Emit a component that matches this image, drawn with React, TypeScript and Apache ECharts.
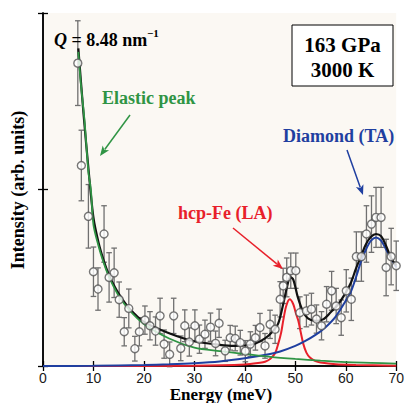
import React, { useEffect, useRef } from "react";
import * as echarts from "echarts";

// Measured IXS spectrum (energy in meV, intensity in arbitrary units, 0-100 scale)
const energy = [
  6.9, 7.6, 9.0, 10.0, 10.9, 12.1, 13.1, 14.1, 15.1, 16.1, 17.0, 18.2, 19.1, 20.2,
  21.2, 22.3, 23.2, 24.0, 25.1, 25.9, 27.3, 28.1, 29.0, 30.1, 31.0, 32.1, 33.2, 34.2,
  34.9, 36.1, 37.1, 38.1, 39.1, 40.1, 41.1, 42.1, 43.0, 44.0, 45.0, 46.0, 47.0, 47.6,
  48.3, 49.1, 50.1, 50.9, 52.2, 53.2, 54.2, 55.2, 56.2, 57.2, 58.1, 59.1, 60.1, 61.1,
  62.1, 63.1, 64.1, 65.1, 66.0, 67.0, 68.0, 69.0, 70.0,
];
const intensity = [
  85.8, 56.8, 42.4, 26.7, 21.8, 37.4, 25.1, 26.4, 18.8, 9.7, 16.3, 4.9, 9.7, 13.0,
  11.4, 9.9, 14.2, 6.2, 3.3, 14.2, 5.0, 11.4, 6.8, 11.4, 7.6, 9.0, 11.0, 6.4,
  12.1, 4.3, 8.0, 7.8, 6.6, 4.2, 6.2, 8.0, 10.9, 5.7, 11.8, 10.4, 18.9, 22.7,
  25.1, 27.0, 27.0, 15.1, 15.6, 16.1, 13.3, 11.4, 17.5, 21.3, 17.0, 13.7, 21.3, 18.9,
  31.0, 31.0, 37.4, 40.2, 42.1, 42.1, 27.9, 31.0, 28.4,
];
const errors = [
  12, 10, 9, 7, 6, 8, 7, 7, 5, 4, 5.5, 3.5, 4, 4,
  4, 4, 5, 4, 3.5, 5, 3.5, 4.5, 4, 4.5, 4, 4, 4, 3.5,
  4, 3, 3.5, 3.5, 3.5, 3, 3.5, 3.5, 4, 3.5, 4, 4, 5, 5,
  5.5, 5, 5, 4.5, 4.5, 4.5, 4, 4, 5, 5.5, 5, 5, 6, 6,
  7, 7, 8, 8, 8.5, 8.5, 8, 8, 7,
];

// Fitted components: [energy, intensity]
const elasticFit = [
  [7.0, 89], [7.5, 80], [8.2, 70], [9.0, 55], [9.5, 49.7], [10, 40], [11, 34], [12, 29.3],
  [13, 25.5], [14, 22.5], [15, 19.9], [17, 16], [20, 11.9], [25, 7.8], [30, 5.2], [35, 4.2],
  [40, 3.4], [45, 2.6], [50, 2], [55, 1.5], [60, 1.1], [65, 0.9], [70, 0.7],
];
const laFit = [
  [0, 0], [30, 0.1], [40, 0.4], [43, 0.9], [44, 1.2], [45, 2.0], [46, 3.6], [46.6, 6.2],
  [47.2, 9.5], [47.6, 12.8], [48.2, 17], [48.9, 18.9], [49.6, 17.5], [50.1, 15], [50.6, 12.8],
  [51.1, 9.4], [51.6, 6.2], [52.2, 3.8], [52.9, 2.4], [54, 1.4], [55, 1.0], [58, 0.5],
  [62, 0.3], [70, 0.1],
];
const taFit = [
  [0, 0], [10, 0.05], [20, 0.3], [25, 0.5], [30, 0.8], [35, 1.3], [40, 2.2], [45, 3.4],
  [47, 4.1], [50, 5.7], [52, 7.1], [54, 8.8], [56, 11], [58, 14], [60, 18.5], [61, 21],
  [62, 25], [63, 29.5], [64, 33], [65, 35.5], [66, 36.4], [67, 35.5], [68, 33], [69, 30.5],
  [70, 28],
];
const totalFit = [
  [7.0, 90], [8, 72], [9, 56], [10, 42], [11, 35], [12, 30], [13, 26], [14, 23], [15, 20.5],
  [17, 16.5], [20, 12.5], [25, 9.3], [30, 7.0], [35, 6.0], [38, 5.7], [40, 5.8], [42, 6.3],
  [44, 7.8], [45.5, 9.8], [46.6, 12], [47.6, 17.5], [48.3, 22], [49.0, 25.2], [49.6, 24.5],
  [50.5, 19.5], [51.5, 15.5], [52.5, 13.5], [54, 12.8], [55.5, 13.2], [57, 15.2], [58.5, 17.5],
  [60, 20.8], [61, 23.5], [62, 27.5], [63, 31], [64, 34.5], [65, 36.6], [66, 37.4], [67, 36.8],
  [68, 34], [69, 30.5], [70, 28.5],
];

const xTicks = [0, 10, 20, 30, 40, 50, 60, 70];

const SERIF = "'Liberation Serif', 'DejaVu Serif', serif";
const SANS = "'Liberation Sans', Arial, sans-serif";

function arrow(x1: number, y1: number, x2: number, y2: number, color: string) {
  const dx = x2 - x1;
  const dy = y2 - y1;
  const len = Math.sqrt(dx * dx + dy * dy);
  const ux = dx / len;
  const uy = dy / len;
  const hl = 10;
  const hw = 4;
  const bx = x2 - ux * hl;
  const by = y2 - uy * hl;
  return [
    {
      type: "line",
      shape: { x1, y1, x2: bx + ux * 2, y2: by + uy * 2 },
      style: { stroke: color, lineWidth: 1.5 },
      z: 100,
    },
    {
      type: "polygon",
      shape: {
        points: [
          [x2, y2],
          [bx - uy * hw, by + ux * hw],
          [bx + ux * 2.5, by + uy * 2.5],
          [bx + uy * hw, by - ux * hw],
        ],
      },
      style: { fill: color },
      z: 100,
    },
  ];
}

export default function App() {
  const ref = useRef<HTMLDivElement>(null);
  useEffect(() => {
    document.body.style.margin = "0";
    const chart = echarts.init(ref.current!, null, { renderer: "svg" });
    const axisLine = { show: true, lineStyle: { color: "#000", width: 1.5 } };
    const axisTick = { show: true, inside: true, length: 5, lineStyle: { color: "#000", width: 1.3 } };
    const green = "#2f9444";
    const red = "#e8202a";
    const blue = "#1f3fa0";
    chart.setOption({
      animation: false,
      backgroundColor: "#ffffff",
      grid: {
        left: 43,
        right: 10,
        top: 13,
        bottom: 37,
        show: true,
        backgroundColor: "#fbf8f3",
        borderWidth: 0,
      },
      xAxis: [
        {
          type: "value",
          min: 0,
          max: 70,
          interval: 10,
          axisLine,
          axisTick,
          splitLine: { show: false },
          axisLabel: {
            show: true,
            color: "#1a1a1a",
            fontFamily: SANS,
            fontSize: 14,
            margin: 5,
            formatter: (v: number) => (xTicks.includes(v) ? String(v) : ""),
          },
        },
        {
          type: "value",
          position: "top",
          min: 0,
          max: 70,
          interval: 10,
          axisLine,
          axisTick,
          splitLine: { show: false },
          axisLabel: { show: false },
        },
      ],
      yAxis: [
        {
          type: "value",
          min: 0,
          max: 100,
          interval: 50,
          axisLine,
          axisTick,
          splitLine: { show: false },
          axisLabel: { show: false },
        },
        {
          type: "value",
          position: "right",
          min: 0,
          max: 100,
          interval: 50,
          axisLine,
          axisTick,
          splitLine: { show: false },
          axisLabel: { show: false },
        },
      ],
      series: [
        {
          type: "custom",
          name: "errors",
          z: 2,
          data: energy.map((e, i) => [e, intensity[i] - errors[i], intensity[i] + errors[i]]),
          encode: { x: 0, y: [1, 2] },
          renderItem: (params: any, api: any) => {
            const x = api.value(0);
            const lo = api.coord([x, api.value(1)]);
            const hi = api.coord([x, api.value(2)]);
            const c = 2.8;
            const st = { stroke: "#707070", lineWidth: 1.3 };
            return {
              type: "group",
              children: [
                { type: "line", shape: { x1: lo[0], y1: lo[1], x2: hi[0], y2: hi[1] }, style: st },
                { type: "line", shape: { x1: lo[0] - c, y1: lo[1], x2: lo[0] + c, y2: lo[1] }, style: st },
                { type: "line", shape: { x1: hi[0] - c, y1: hi[1], x2: hi[0] + c, y2: hi[1] }, style: st },
              ],
            };
          },
        },
        {
          type: "line",
          name: "LA",
          data: laFit,
          smooth: 0.3,
          symbol: "none",
          z: 3,
          lineStyle: { color: red, width: 2 },
        },
        {
          type: "line",
          name: "TA",
          data: taFit,
          smooth: 0.3,
          symbol: "none",
          z: 3,
          lineStyle: { color: blue, width: 2 },
        },
        {
          type: "line",
          name: "total",
          data: totalFit,
          smooth: 0.3,
          symbol: "none",
          z: 4,
          lineStyle: { color: "#111", width: 2.2 },
        },
        {
          type: "line",
          name: "elastic",
          data: elasticFit,
          smooth: 0.3,
          symbol: "none",
          z: 4,
          lineStyle: { color: green, width: 1.8 },
        },
        {
          type: "scatter",
          name: "data",
          z: 5,
          data: energy.map((e, i) => [e, intensity[i]]),
          symbol: "circle",
          symbolSize: 8,
          itemStyle: { color: "#ffffff", borderColor: "#555", borderWidth: 1.4 },
        },
      ],
      graphic: [
        {
          type: "text",
          x: 54,
          y: 40,
          style: {
            text: "{q|Q} = 8.48 nm",
            font: `bold 18px ${SERIF}`,
            fill: "#000",
            verticalAlign: "middle",
            rich: {
              q: { fontStyle: "italic", fontWeight: "bold", fontSize: 18, fontFamily: SERIF, fill: "#000" },
            },
          },
          z: 100,
        },
        {
          type: "text",
          x: 147,
          y: 33,
          style: { text: "−1", font: `bold 11px ${SERIF}`, fill: "#000", verticalAlign: "middle" },
          z: 100,
        },
        {
          type: "text",
          x: 102,
          y: 98,
          style: { text: "Elastic peak", font: `bold 18px ${SERIF}`, fill: green, verticalAlign: "middle" },
          z: 100,
        },
        {
          type: "text",
          x: 178,
          y: 213,
          style: { text: "hcp-Fe (LA)", font: `bold 18px ${SERIF}`, fill: red, verticalAlign: "middle" },
          z: 100,
        },
        {
          type: "text",
          x: 283,
          y: 136,
          style: { text: "Diamond (TA)", font: `bold 18px ${SERIF}`, fill: blue, verticalAlign: "middle" },
          z: 100,
        },
        ...arrow(130, 115, 100, 156, green),
        ...arrow(233, 228, 283, 269, red),
        ...arrow(347, 150, 363, 195, blue),
        {
          type: "rect",
          shape: { x: 292, y: 25, width: 101, height: 61 },
          style: { fill: "#ffffff", stroke: "#000", lineWidth: 1 },
          z: 100,
        },
        {
          type: "text",
          x: 342.5,
          y: 45,
          style: { text: "163 GPa", font: `bold 21px ${SERIF}`, fill: "#000", align: "center", verticalAlign: "middle" },
          z: 101,
        },
        {
          type: "text",
          x: 342.5,
          y: 70,
          style: { text: "3000 K", font: `bold 21px ${SERIF}`, fill: "#000", align: "center", verticalAlign: "middle" },
          z: 101,
        },
        {
          type: "text",
          x: 221,
          y: 394,
          style: { text: "Energy (meV)", font: `bold 17px ${SERIF}`, fill: "#000", align: "center", verticalAlign: "middle" },
          z: 100,
        },
        {
          type: "text",
          x: 18,
          y: 190,
          rotation: Math.PI / 2,
          style: {
            text: "Intensity (arb. units)",
            font: `bold 18px ${SERIF}`,
            fill: "#000",
            align: "center",
            verticalAlign: "middle",
          },
          z: 100,
        },
      ],
    });
    return () => chart.dispose();
  }, []);
  return (
    <div
      ref={ref}
      style={{ position: "absolute", left: 0, top: 0, width: 407, height: 403 }}
    />
  );
}
